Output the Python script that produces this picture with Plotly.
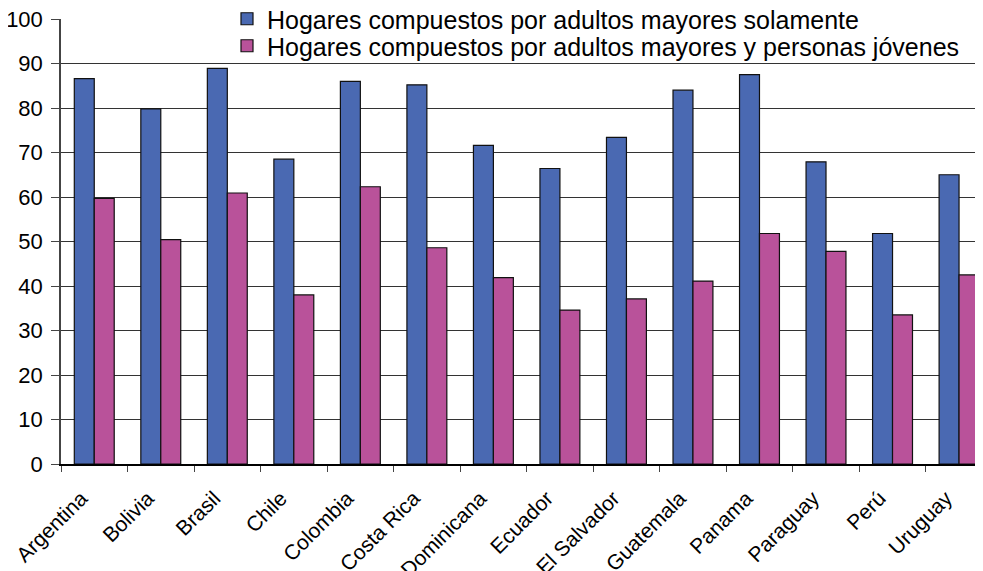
import plotly.graph_objects as go

countries = ["Argentina", "Bolivia", "Brasil", "Chile", "Colombia", "Costa Rica",
             "Dominicana", "Ecuador", "El Salvador", "Guatemala", "Panama",
             "Paraguay", "Perú", "Uruguay"]
solo_mayores = [86.6, 79.8, 88.9, 68.5, 86.0, 85.2, 71.6, 66.4, 73.4, 84.0, 87.5, 67.9, 51.8, 65.0]
con_jovenes = [59.7, 50.4, 60.9, 38.0, 62.3, 48.6, 41.9, 34.6, 37.1, 41.1, 51.8, 47.8, 33.5, 42.5]
y_ticks = [0, 10, 20, 30, 40, 50, 60, 70, 80, 90, 100]

FONT = "Liberation Sans, Arial, sans-serif"
# the page body adds an 8px offset, so the figure is 8px smaller than the window
W, H = 975, 563

fig = go.Figure()
fig.add_trace(go.Bar(
    x=countries, y=solo_mayores,
    name="Hogares compuestos por adultos mayores solamente",
    marker=dict(color="#4A69B2", line=dict(color="#111111", width=1.2)),
    legend="legend",
))
fig.add_trace(go.Bar(
    x=countries, y=con_jovenes,
    name="Hogares compuestos por adultos mayores y personas jóvenes",
    marker=dict(color="#B9529A", line=dict(color="#111111", width=1.2)),
    legend="legend2",
))

leg_common = dict(
    xref="container", yref="container", xanchor="left", yanchor="middle",
    bgcolor="rgba(255,255,255,0)", borderwidth=0, itemwidth=30,
    font=dict(family=FONT, size=25, color="black"),
)

fig.update_layout(
    width=W, height=H,
    margin=dict(l=53, r=0, t=11, b=107, autoexpand=False),
    paper_bgcolor="white", plot_bgcolor="white",
    barmode="group", bargap=0.4, bargroupgap=0,
    font=dict(family=FONT, color="black"),
    showlegend=True,
    legend=dict(x=219 / W, y=1 - 11 / H, **leg_common),
    legend2=dict(x=219 / W, y=1 - 38 / H, visible=True, **leg_common),
    xaxis=dict(
        range=[-0.5, 13.36], type="category", automargin=False,
        tickangle=-45, tickfont=dict(size=21, family=FONT, color="black"),
        ticklabelstandoff=12, ticklabelshift=-13, ticklabeloverflow="allow",
        showline=True, linecolor="black", linewidth=1.5,
        ticks="outside", ticklen=6, tickcolor="#444444", tickson="boundaries",
        showgrid=False,
    ),
    yaxis=dict(
        range=[0, 100], tickvals=y_ticks, automargin=False,
        tickfont=dict(size=22, family=FONT, color="black"),
        ticklabelstandoff=4, ticklabeloverflow="allow",
        showline=True, linecolor="#444444", linewidth=1.5,
        ticks="outside", ticklen=8, tickcolor="#444444",
        showgrid=True, gridcolor="#333333", gridwidth=1,
        zeroline=False,
    ),
    shapes=[dict(
        type="rect", layer="between",
        xref="paper", yref="paper",
        x0=(210 - 61) / 922, x1=1.01, y0=0.985, y1=1.02,
        fillcolor="white", line=dict(width=0),
    )],
)

fig.write_html("out.html")
